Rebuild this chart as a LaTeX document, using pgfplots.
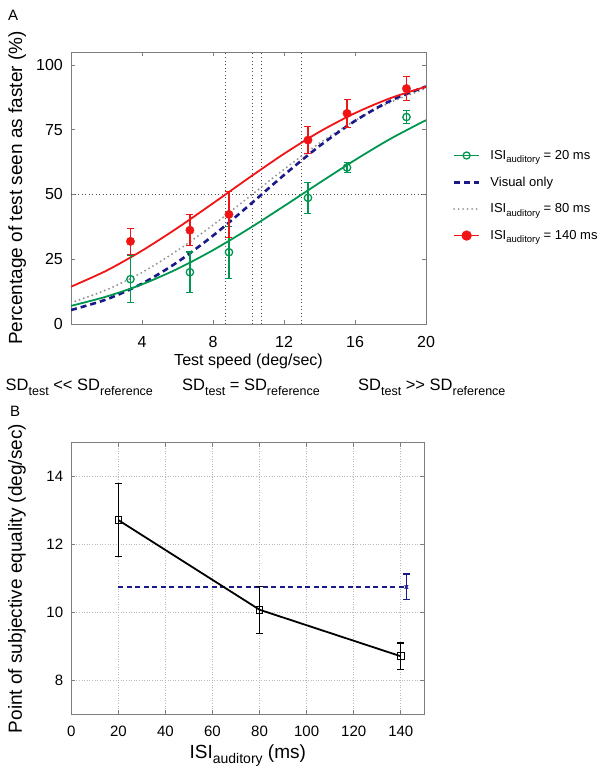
\documentclass[border=0pt]{standalone}
\usepackage{fontspec}
\setmainfont{Liberation Sans}
\usepackage{pgfplots}
\pgfplotsset{compat=1.18}
\definecolor{cgreen}{RGB}{0,150,80}
\definecolor{cred}{RGB}{240,20,20}
\definecolor{cblue}{RGB}{25,25,135}
\definecolor{cgray}{RGB}{150,150,150}
\definecolor{axisgray}{RGB}{125,125,125}
\definecolor{refgray}{RGB}{80,80,80}
\newcommand{\subs}[3]{\raisebox{#1}{\fontsize{#2}{#2}\selectfont #3}}
\pgfplotsset{
  common/.style={
    scale only axis,
    axis line style={draw=axisgray, line width=0.8pt},
    tick style={draw=axisgray, line width=0.8pt},
    major tick length=4pt,
    /pgf/number format/assume math mode=true,
    tick label style={inner sep=0pt},
    xticklabel style={anchor=north, yshift=-12pt},
    yticklabel style={anchor=east, xshift=-8pt},
  },
  errs/.style={error bars/.cd, y dir=both, y explicit,
    error bar style={line width=1.2pt, #1},
    error mark options={rotate=90, mark size=3.5pt, line width=1.2pt, #1}},
}
\begin{document}
\begin{tikzpicture}
\useasboundingbox (0pt,0pt) rectangle (602pt,-776pt);
% Panel A
\begin{axis}[common,
  at={(71pt,-324pt)}, anchor=south west,
  width=355pt, height=272pt,
  xmin=0, xmax=20, ymin=0, ymax=105,
  xtick={4,8,12,16,20}, ytick={0,25,50,75,100},
  tick label style={font=\fontsize{16}{16}\selectfont},
  xlabel={Test speed (deg/sec)},
  xlabel style={font=\fontsize{16}{16}\selectfont, at={(axis description cs:0.5,-0.151)}, anchor=base, inner sep=0pt},
  ylabel={Percentage of test seen as faster (\%)},
  ylabel style={font=\fontsize{19}{19}\selectfont, at={(axis description cs:-0.138,0.5)}, anchor=base, inner sep=0pt},
  legend image code/.code={\draw[mark repeat=2,mark phase=2,#1] plot coordinates {(0pt,0pt) (12.5pt,0pt) (25pt,0pt)}; \path (0pt,0pt) (33pt,0pt);},
  legend style={draw=none, fill=none, at={(axis description cs:1.075,0.647)}, anchor=north west,
    font=\fontsize{13}{13}\selectfont, row sep=12pt, inner sep=0pt, cells={anchor=west}},
]
\addlegendimage{cgreen, line width=1.8pt, mark=o, mark size=3.5pt, mark options={solid, line width=1.3pt}}
\addlegendentry{ISI\subs{-3.5pt}{9.5}{auditory} = 20 ms}
\addlegendimage{cblue, line width=2.6pt, dash pattern=on 6pt off 4pt}
\addlegendentry{Visual only}
\addlegendimage{cgray, line width=2.2pt, line cap=round, dash pattern=on 0pt off 4.5pt}
\addlegendentry{ISI\subs{-3.5pt}{9.5}{auditory} = 80 ms}
\addlegendimage{cred, line width=1.8pt, mark=*, mark size=4.2pt}
\addlegendentry{ISI\subs{-3.5pt}{9.5}{auditory} = 140 ms}
% reference lines
\addplot[forget plot, refgray, line width=1pt, dash pattern=on 1pt off 2.5pt] coordinates {(8.7,0) (8.7,105)};
\addplot[forget plot, refgray, line width=1pt, dash pattern=on 1pt off 2.5pt] coordinates {(10.2,0) (10.2,105)};
\addplot[forget plot, refgray, line width=1pt, dash pattern=on 1pt off 2.5pt] coordinates {(10.74,0) (10.74,105)};
\addplot[forget plot, refgray, line width=1pt, dash pattern=on 1pt off 2.5pt] coordinates {(13.0,0) (13.0,105)};
\addplot[forget plot, refgray, line width=1pt, dash pattern=on 1pt off 2.5pt] coordinates {(0,50) (20,50)};
% fitted curves
\addplot[forget plot, cgray, line width=2.2pt, line cap=round, dash pattern=on 0pt off 4.5pt, smooth] coordinates {
(0,8.2)(2,13.2)(4,19.9)(6,28.4)(8,38.2)(10,48.9)(12,59.7)(14,69.8)(16,78.5)(18,85.6)(20,90.9)};
\addplot[forget plot, cblue, line width=2.6pt, dash pattern=on 6pt off 4pt, smooth] coordinates {
(0,5.4)(2,9.5)(4,15.6)(6,23.9)(8,34.1)(10,45.6)(12,57.5)(14,68.7)(16,78.4)(18,86.2)(20,91.7)};
\addplot[forget plot, cgreen, line width=1.8pt, smooth] coordinates {
(0,7.0)(2,10.6)(4,15.3)(6,21.3)(8,28.5)(10,36.7)(12,45.5)(14,54.5)(16,63.3)(18,71.5)(20,78.7)};
\addplot[forget plot, cred, line width=1.8pt, smooth] coordinates {
(0,14.4)(2,20.6)(4,28.3)(6,37.1)(8,46.6)(10,56.3)(12,65.7)(14,74.2)(16,81.4)(18,87.2)(20,91.6)};
% data
\addplot[forget plot, cgreen, only marks, mark=o, mark size=3.7pt, mark options={line width=1.3pt}, errs=cgreen] coordinates {
(3.35,17.3) +- (0,9) (6.7,20.0) +- (0,7.8) (8.9,27.7) +- (0,10) (13.35,48.7) +- (0,6) (15.55,60.4) +- (0,2) (18.9,79.9) +- (0,2.4)};
\addplot[forget plot, cred, only marks, mark=*, mark size=4.2pt, errs=cred] coordinates {
(3.35,31.9) +- (0,5) (6.7,36.2) +- (0,6) (8.9,42.3) +- (0,8.8) (13.35,71.0) +- (0,5.3) (15.55,81.3) +- (0,5.3) (18.9,90.9) +- (0,4.6)};
\end{axis}
% Panel B
\begin{axis}[common,
  at={(71.3pt,-714.3pt)}, anchor=south west,
  width=353pt, height=271.6pt,
  xmin=0, xmax=150, ymin=7, ymax=15,
  xtick={0,20,40,60,80,100,120,140}, ytick={8,10,12,14},
  tick label style={font=\fontsize{15}{15}\selectfont},
  grid=major, grid style={draw=gray!55, line width=0.8pt, dash pattern=on 1pt off 1.6pt},
  xlabel={ISI\subs{-5pt}{14}{auditory} (ms)},
  xlabel style={font=\fontsize{19}{19}\selectfont, at={(axis description cs:0.5,-0.161)}, anchor=base, inner sep=0pt},
  ylabel={Point of subjective equality (deg/sec)},
  ylabel style={font=\fontsize{19}{19}\selectfont, at={(axis description cs:-0.14,0.5)}, anchor=base, inner sep=0pt},
]
\addplot[cblue, line width=2.4pt, dash pattern=on 5pt off 3.5pt] coordinates {(20,10.75) (142.4,10.75)};
\addplot[black, line width=1.8pt, mark=square, mark size=3.3pt, mark options={solid, line width=1pt}, errs=black] coordinates {
(20,12.72) +- (0,1.07) (80,10.08) +- (0,0.69) (140,8.71) +- (0,0.39)};
\addplot[cblue, only marks, mark=x, mark size=2.5pt, mark options={line width=1pt}, errs=cblue] coordinates {(142.4,10.75) +- (0,0.38)};
\end{axis}
% panel letters and condition labels
\node[anchor=base west, inner sep=0pt, font=\fontsize{15}{15}\selectfont] at (8pt,-20.5pt) {A};
\node[anchor=base west, inner sep=0pt, font=\fontsize{15}{15}\selectfont] at (10pt,-416pt) {B};
\node[anchor=base west, inner sep=0pt, font=\fontsize{16.5}{16.5}\selectfont] at (5.5pt,-390pt) {SD\subs{-5pt}{12.5}{test} <\kern0pt< SD\subs{-5pt}{12.5}{reference}};
\node[anchor=base west, inner sep=0pt, font=\fontsize{16.5}{16.5}\selectfont] at (182pt,-390pt) {SD\subs{-5pt}{12.5}{test} = SD\subs{-5pt}{12.5}{reference}};
\node[anchor=base west, inner sep=0pt, font=\fontsize{16.5}{16.5}\selectfont] at (358pt,-390pt) {SD\subs{-5pt}{12.5}{test} >\kern0pt> SD\subs{-5pt}{12.5}{reference}};
\end{tikzpicture}
\end{document}
